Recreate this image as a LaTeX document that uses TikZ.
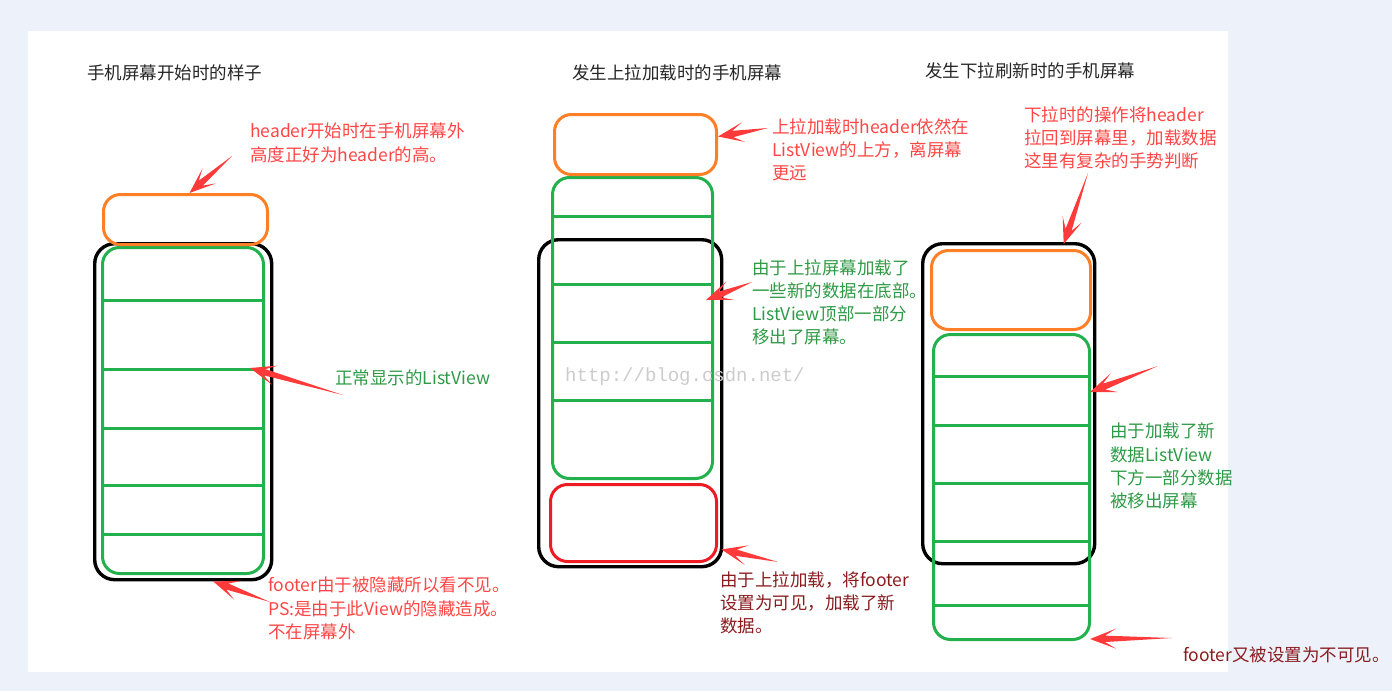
\documentclass[tikz,border=0pt]{standalone}
\usepackage{fontspec}
\usepackage{xcolor}
\usepackage{tikz}
\usetikzlibrary{calc, positioning}

\newfontfamily\cjk{Noto Sans CJK SC}
\newfontfamily\wmark{Liberation Mono}

\definecolor{pagebg}{HTML}{EDF1F9}
\definecolor{hdrorange}{HTML}{FF7F27}
\definecolor{lvgreen}{HTML}{22B14C}
\definecolor{ftred}{HTML}{ED1C24}
\definecolor{notered}{HTML}{FF4646}
\definecolor{notegreen}{HTML}{2F9A47}
\definecolor{notedark}{HTML}{8A1C20}
\definecolor{arrowred}{HTML}{FF3A3A}

\tikzset{
  box/.style={line width=3pt, rounded corners=17pt, inner sep=0pt, anchor=north west},
  screen/.style={box, draw=black, line width=3.4pt, rounded corners=20pt},
  header/.style={box, draw=hdrorange},
  listview/.style={box, draw=lvgreen},
  footer/.style={box, draw=ftred},
  itemline/.style={draw=lvgreen, line width=3pt},
  title/.style={font=\cjk\fontsize{17.5}{20}\selectfont, text=black!85, inner sep=0pt, anchor=north west},
  note/.style={font=\cjk\fontsize{17.5}{23.3}\selectfont, align=left, inner sep=0pt, anchor=north west},
  pointer/.style={fill=arrowred, draw=none,
    to path={let \p1=($(\tikztotarget)-(\tikztostart)$),
                 \n1={atan2(\y1,\x1)}, \n2={veclen(\x1,\y1)} in
      -- ($(\tikztostart)+(\n1:{\n2-15pt})+(\n1+90:3.2pt)$)
      -- ($(\tikztostart)+(\n1:{\n2-26pt})+(\n1+90:10pt)$)
      -- (\tikztotarget)
      -- ($(\tikztostart)+(\n1:{\n2-26pt})+(\n1-90:10pt)$)
      -- ($(\tikztostart)+(\n1:{\n2-15pt})+(\n1-90:3.2pt)$)
      -- cycle}},
}

\begin{document}
\begin{tikzpicture}[x=1pt, y=-1pt]
  \useasboundingbox (0,0) rectangle (1392,691);
  \fill[pagebg] (0,0) rectangle (1392,691);
  \fill[white] (28,31) rectangle (1228,672);

  % titles
  \node[title] (title1) at (87,65) {手机屏幕开始时的样子};
  \node[title] (title2) at (572,64) {发生上拉加载时的手机屏幕};
  \node[title] (title3) at (925,62) {发生下拉刷新时的手机屏幕};

  % screen 1: start
  \node[screen, minimum width=177pt, minimum height=336pt] (scr1) at (93,242) {};
  \node[listview, minimum width=161pt, minimum height=326pt] (lv1) at (101,246) {};
  \node[header, minimum width=164pt, minimum height=50pt] (hdr1) at (102,193) {};
  \foreach \y in {300,369,428,485,534}
    \draw[itemline] (lv1.west |- 0,\y) -- (lv1.east |- 0,\y);

  % screen 2: pull up
  \node[screen, minimum width=183pt, minimum height=327pt] (scr2) at (537,238) {};
  \node[listview, minimum width=160pt, minimum height=301pt] (lv2) at (551,176) {};
  \node[header, minimum width=162pt, minimum height=60pt] (hdr2) at (553,113) {};
  \node[footer, minimum width=166pt, minimum height=77pt] (ftr2) at (549,483) {};
  \foreach \y in {216,284,342,400}
    \draw[itemline] (lv2.west |- 0,\y) -- (lv2.east |- 0,\y);

  % screen 3: pull down
  \node[screen, minimum width=172pt, minimum height=320pt] (scr3) at (921,242) {};
  \node[listview, minimum width=156pt, minimum height=305pt] (lv3) at (932,333) {};
  \node[header, minimum width=159pt, minimum height=79pt] (hdr3) at (930,249) {};
  \foreach \y in {376,425,483,541,605}
    \draw[itemline] (lv3.west |- 0,\y) -- (lv3.east |- 0,\y);

  % notes
  \node[note, text=notered] (note1) at (250,123)
    {header开始时在手机屏幕外\\高度正好为header的高。};
  \node[note, text=notegreen] (note2) at (335,370) {正常显示的ListView};
  \node[note, text=notered] (note3) at (268,577)
    {footer由于被隐藏所以看不见。\\PS:是由于此View的隐藏造成。\\不在屏幕外};
  \node[note, text=notered] (note4) at (772,118)
    {上拉加载时header依然在\\ListView的上方，离屏幕\\更远};
  \node[note, text=notegreen] (note5) at (752,259)
    {由于上拉屏幕加载了\\一些新的数据在底部。\\ListView顶部一部分\\移出了屏幕。};
  \node[note, text=notedark] (note6) at (720,571)
    {由于上拉加载，将footer\\设置为可见，加载了新\\数据。};
  \node[note, text=notered] (note7) at (1024,106)
    {下拉时的操作将header\\拉回到屏幕里，加载数据\\这里有复杂的手势判断};
  \node[note, text=notegreen] (note8) at (1110,423)
    {由于加载了新\\数据ListView\\下方一部分数据\\被移出屏幕};
  \node[note, text=notedark] (note9) at (1183,647) {footer又被设置为不可见。};

  % arrow ends
  \coordinate (tail1) at (232,156);
  \coordinate (tail2) at (343,395);
  \coordinate (tail3) at (270,602);
  \coordinate (tail4) at (768,128);
  \coordinate (tail5) at (752,282);
  \coordinate (tail6) at (778,562);
  \coordinate (tail7) at (1088,173);
  \coordinate (tail8) at (1158,366);
  \coordinate (tail9) at (1172,638);
  \coordinate (tip2) at (250,368);
  \coordinate (tip5) at (706,300);
  \coordinate (tip8) at (1090,392);

  \path[pointer]
    (tail1) to ([xshift=4pt]hdr1.north)
    (tail2) to (tip2)
    (tail3) to ([xshift=30pt]scr1.south)
    (tail4) to ([yshift=8pt]hdr2.east)
    (tail5) to (tip5)
    (tail6) to ([xshift=-2pt,yshift=19pt]scr2.south east)
    (tail7) to ([xshift=55pt,yshift=-2pt]scr3.north)
    (tail8) to (tip8)
    (tail9) to ([xshift=-1pt,yshift=2pt]lv3.south east);

  % watermark
  \node[font=\wmark\fontsize{19}{20}\selectfont, text=black!20, inner sep=0pt, anchor=west]
    (wm) at (565,377) {http://blog.csdn.net/};
\end{tikzpicture}
\end{document}
